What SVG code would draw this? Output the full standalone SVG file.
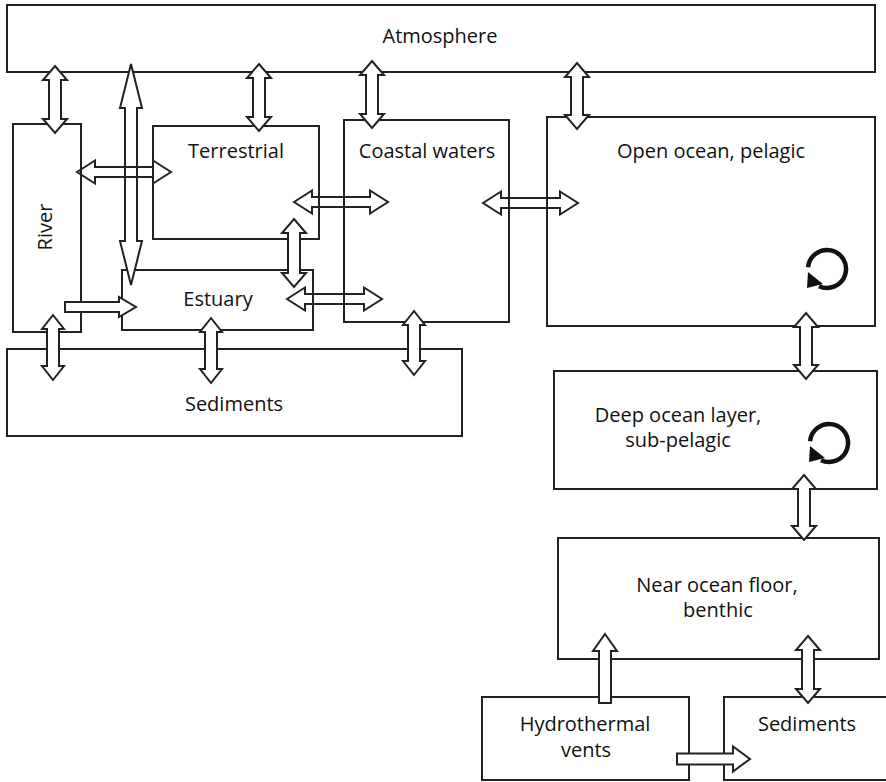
<svg xmlns="http://www.w3.org/2000/svg" width="886" height="782" viewBox="0 0 886 782">
  <style>
    .box { fill: #fff; stroke: #222; stroke-width: 2; }
    .arr { fill: #fff; stroke: #222; stroke-width: 2; stroke-linejoin: miter; }
    .arr-open { fill: none; stroke: #222; stroke-width: 2; stroke-linejoin: miter; }
    .lbl { font-family: "Open Sans", "Noto Sans", "Liberation Sans", sans-serif; font-size: 20px; fill: #111; text-anchor: middle; }
    .cyc { fill: none; stroke: #111; stroke-width: 4.5; }
    .cyc-head { fill: #111; stroke: none; }
  </style>
  <rect width="886" height="782" fill="#fff"/>

  <!-- compartments -->
  <g id="atmosphere">
    <rect class="box" x="7" y="5" width="868" height="67"/>
    <text class="lbl" x="440" y="43">Atmosphere</text>
  </g>
  <g id="river">
    <rect class="box" x="13" y="124" width="68" height="208"/>
    <text class="lbl" transform="translate(52,227) rotate(-90)">River</text>
  </g>
  <g id="sediments-coastal">
    <rect class="box" x="7" y="349" width="455" height="87"/>
    <text class="lbl" x="234" y="411">Sediments</text>
  </g>
  <g id="terrestrial">
    <rect class="box" x="153" y="126" width="166" height="113"/>
    <text class="lbl" x="236" y="158">Terrestrial</text>
  </g>
  <g id="estuary">
    <rect class="box" x="122" y="270" width="191" height="60"/>
    <text class="lbl" x="218" y="306">Estuary</text>
  </g>
  <g id="coastal-waters">
    <rect class="box" x="344" y="120" width="165" height="202"/>
    <text class="lbl" x="427" y="158">Coastal waters</text>
  </g>
  <g id="open-ocean">
    <rect class="box" x="547" y="117" width="328" height="209"/>
    <text class="lbl" x="711" y="158">Open ocean, pelagic</text>
    <path class="cyc" d="M808.1,267.3 A19,19 0 1 1 819,286.2"/>
    <polygon class="cyc-head" points="808,272 807,288 823,284"/>
  </g>
  <g id="deep-ocean">
    <rect class="box" x="554" y="371" width="323" height="118"/>
    <text class="lbl" x="678" y="422">Deep ocean layer,</text>
    <text class="lbl" x="678" y="447">sub-pelagic</text>
    <path class="cyc" d="M810.1,441.3 A19,19 0 1 1 821,460.2"/>
    <polygon class="cyc-head" points="810,446 809,462 825,458"/>
  </g>
  <g id="ocean-floor">
    <rect class="box" x="558" y="538" width="321" height="121"/>
    <text class="lbl" x="717" y="592">Near ocean floor,</text>
    <text class="lbl" x="718" y="617">benthic</text>
  </g>
  <g id="hydrothermal-vents">
    <rect class="box" x="482" y="697" width="207" height="83"/>
    <text class="lbl" x="585" y="731">Hydrothermal</text>
    <text class="lbl" x="586" y="757">vents</text>
  </g>
  <g id="sediments-deep">
    <rect class="box" x="724" y="697" width="170" height="83"/>
    <text class="lbl" x="807" y="731">Sediments</text>
  </g>

  <!-- exchange arrows -->
  <g id="connectors">
    <!-- atmosphere exchanges -->
    <polygon class="arr" points="55,66 67,80 61,80 61,119 67,119 55,133 43,119 49,119 49,80 43,80"/>
    <polygon class="arr" points="259,64 271,78 265,78 265,117 271,117 259,131 247,117 253,117 253,78 247,78"/>
    <polygon class="arr" points="372,61 384,75 378,75 378,114 384,114 372,128 360,114 366,114 366,75 360,75"/>
    <polygon class="arr" points="577,63 589,77 583,77 583,115 589,115 577,129 565,115 571,115 571,77 565,77"/>
    <!-- long atmosphere-estuary arrow -->
    <polygon class="arr" points="131,64 142,108 137,108 137,241 142,241 131,285 120,241 125,241 125,108 120,108"/>
    <!-- river-terrestrial -->
    <polygon class="arr-open" points="77,172 95,160.5 95,167 153,167 153,160.5 171,172 153,183.5 153,177 95,177 95,183.5"/>
    <!-- terrestrial-coastal -->
    <polygon class="arr-open" points="294,202 312,190.5 312,197 370,197 370,190.5 388,202 370,213.5 370,207 312,207 312,213.5"/>
    <!-- coastal-open ocean -->
    <polygon class="arr-open" points="483,203 501,191.5 501,198 560,198 560,191.5 578,203 560,214.5 560,208 501,208 501,214.5"/>
    <!-- estuary-coastal -->
    <polygon class="arr-open" points="287,299 305,287.5 305,294 364,294 364,287.5 382,299 364,310.5 364,304 305,304 305,310.5"/>
    <!-- terrestrial-estuary -->
    <polygon class="arr" points="294,219 306,233 300,233 300,273 306,273 294,287 282,273 288,273 288,233 282,233"/>
    <!-- river to estuary -->
    <polygon class="arr" points="65,302 119,302 119,297 136,307 119,317 119,312 65,312"/>
    <!-- sediment exchanges -->
    <polygon class="arr" points="53,315 64,329 59,329 59,366 64,366 53,380 42,366 47,366 47,329 42,329"/>
    <polygon class="arr" points="211,318 222,332 217,332 217,369 222,369 211,383 200,369 205,369 205,332 200,332"/>
    <polygon class="arr" points="414,311 425,325 420,325 420,361 425,361 414,375 403,361 408,361 408,325 403,325"/>
    <!-- water column -->
    <polygon class="arr" points="806,313 818,327 812,327 812,365 818,365 806,379 794,365 800,365 800,327 794,327"/>
    <polygon class="arr" points="804,475 816,489 810,489 810,526 816,526 804,540 792,526 798,526 798,489 792,489"/>
    <!-- hydrothermal vents to benthic -->
    <polygon class="arr" points="605,634 617,651 611,651 611,703 599,703 599,651 593,651"/>
    <!-- benthic-sediments -->
    <polygon class="arr" points="808,636 820,650 814,650 814,689 820,689 808,703 796,689 802,689 802,650 796,650"/>
    <!-- hydrothermal vents to sediments -->
    <polygon class="arr" points="677,753.5 733,753.5 733,746.5 750,759 733,771.5 733,764.5 677,764.5"/>
  </g>
</svg>
